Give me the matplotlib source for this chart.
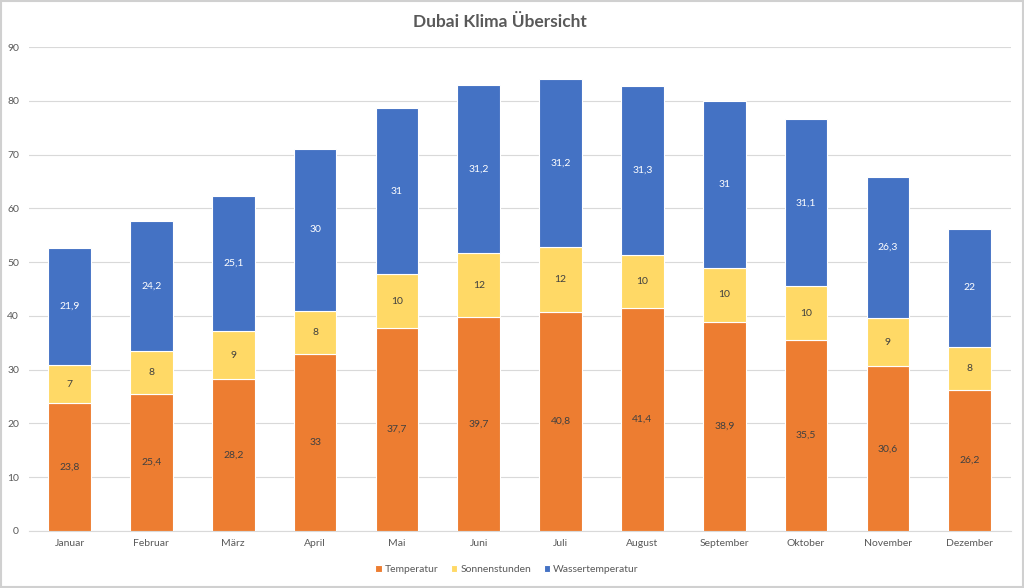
import matplotlib
matplotlib.use('Agg')
import matplotlib.pyplot as plt
import numpy as np
from matplotlib.patches import Rectangle

monate = ['Januar', 'Februar', 'März', 'April', 'Mai', 'Juni', 'Juli',
          'August', 'September', 'Oktober', 'November', 'Dezember']
temperatur = [23.8, 25.4, 28.2, 33, 37.7, 39.7, 40.8, 41.4, 38.9, 35.5, 30.6, 26.2]
sonnenstunden = [7, 8, 9, 8, 10, 12, 12, 10, 10, 10, 9, 8]
wassertemperatur = [21.9, 24.2, 25.1, 30, 31, 31.2, 31.2, 31.3, 31, 31.1, 26.3, 22]

c_temp = '#ED7D31'
c_sonne = '#FFD966'
c_wasser = '#4472C4'

plt.rcParams['font.family'] = ['Lato', 'DejaVu Sans']


def fmt(v):
    s = ('%g' % v).replace('.', ',')
    return s


def main():
    fig = plt.figure(figsize=(10.24, 5.88), dpi=100)
    ax = fig.add_axes([0.028, 0.097, 0.959, 0.823])

    x = np.arange(len(monate))
    t = np.array(temperatur)
    s = np.array(sonnenstunden)
    w = np.array(wassertemperatur)

    b1 = ax.bar(x, t, 0.52, color=c_temp, edgecolor='white', linewidth=0.8, label='Temperatur', zorder=3)
    b2 = ax.bar(x, s, 0.52, bottom=t, color=c_sonne, edgecolor='white', linewidth=0.8, label='Sonnenstunden', zorder=3)
    b3 = ax.bar(x, w, 0.52, bottom=t + s, color=c_wasser, edgecolor='white', linewidth=0.8, label='Wassertemperatur', zorder=3)

    for i in range(len(monate)):
        ax.text(x[i], t[i] / 2, fmt(t[i]), ha='center', va='center', fontsize=7.5, color='#404040', zorder=4)
        ax.text(x[i], t[i] + s[i] / 2, fmt(s[i]), ha='center', va='center', fontsize=7.5, color='#404040', zorder=4)
        ax.text(x[i], t[i] + s[i] + w[i] / 2, fmt(w[i]), ha='center', va='center', fontsize=7.5, color='white', zorder=4)

    ax.set_xlim(-0.5, len(monate) - 0.5)
    ax.set_ylim(0, 90)
    ax.set_yticks(range(0, 91, 10))
    ax.set_xticks(x)
    ax.set_xticklabels(monate)
    ax.yaxis.grid(True, color='#D9D9D9', linewidth=0.8, zorder=0)
    ax.tick_params(axis='both', length=0, labelsize=7.5, colors='#595959')
    ax.tick_params(axis='y', pad=7)
    ax.tick_params(axis='x', pad=6)
    for side in ['top', 'right', 'left']:
        ax.spines[side].set_visible(False)
    ax.spines['bottom'].set_color('#D9D9D9')

    fig.text(0.488, 0.962, 'Dubai Klima Übersicht', ha='center', va='center',
             fontsize=12.5, fontweight='bold', color='#595959')

    leg = fig.legend(handles=[b1, b2, b3], loc='center', bbox_to_anchor=(0.495, 0.031), ncol=3,
                     frameon=False, fontsize=7.5, handlelength=0.6, handleheight=0.6,
                     handletextpad=0.3, columnspacing=1.2)
    for txt in leg.get_texts():
        txt.set_color('#595959')

    fig.patches.append(Rectangle((0.001, 0.001), 0.998, 0.997, transform=fig.transFigure,
                                 fill=False, edgecolor='#D0D0D0', linewidth=1.5))

    fig.savefig('out.png', dpi=100)


main()
